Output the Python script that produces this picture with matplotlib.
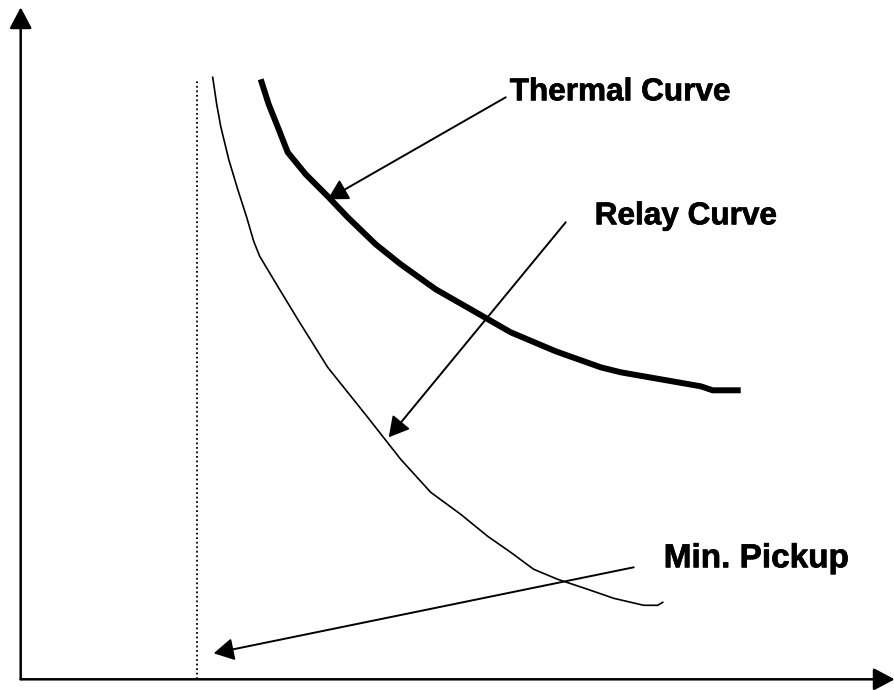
import matplotlib
matplotlib.use("Agg")
import matplotlib.pyplot as plt
from matplotlib.patches import ArrowStyle
import matplotlib.patheffects as pe

# Data (arbitrary current / time units, origin at axes corner)
thermal_x = [240, 248, 258, 267, 285, 307, 327, 355, 380, 415, 450, 490, 535, 580, 600, 640, 680, 692, 720]
thermal_y = [600, 575, 550, 527, 505, 483, 462, 435, 415, 390, 370, 347, 328, 312, 307, 300, 293, 289, 289]

relay_x = [192, 196, 200, 208, 217, 226, 233, 239, 257, 277, 307, 347, 380, 410, 440, 467, 490, 513, 537, 567, 593, 623, 637, 642]
relay_y = [602, 575, 553, 520, 490, 462, 438, 423, 393, 360, 312, 262, 220, 187, 165, 143, 127, 110, 100, 90, 81, 74, 74, 77]

min_pickup_x = 176
min_pickup_top = 600

labels = ["Thermal Curve", "Relay Curve", "Min. Pickup"]
label_size = [22.7, 22.7, 24.0]
label_pos = [(489, 579), (574, 455), (643, 112)]
arrow_start = [(485, 582), (545, 457), (613, 112)]
arrow_tip = [(307, 480), (368, 242), (193, 26)]

fig = plt.figure(figsize=(8.95, 6.9), dpi=100)
ax = fig.add_axes([0, 0, 1, 1])
ax.set_xlim(-20.7, 874.3)
ax.set_ylim(-10.7, 679.3)
ax.axis("off")

px = 100 / 72.0


def head(L, W, ms=10):
    return ArrowStyle("-|>", head_length=L / (ms * px), head_width=W / 2 / (ms * px))


# axes with arrows
ax.annotate("", xy=(0, 672), xytext=(0, 0),
            arrowprops=dict(arrowstyle=head(18, 19), mutation_scale=10, lw=1.8,
                            color="black", shrinkA=0, shrinkB=0))
ax.annotate("", xy=(874, 0), xytext=(0, 0),
            arrowprops=dict(arrowstyle=head(18, 19), mutation_scale=10, lw=1.8,
                            color="black", shrinkA=0, shrinkB=0))

# min pickup dotted line
ax.plot([min_pickup_x, min_pickup_x], [0, min_pickup_top], color="black",
        lw=1.3, linestyle=(0, (1, 1.5)))

# curves
ax.plot(thermal_x, thermal_y, color="black", lw=4.3, solid_capstyle="butt",
        solid_joinstyle="round")
ax.plot(relay_x, relay_y, color="black", lw=1.2, solid_joinstyle="round")

# labels and arrows
for lab, fs, (tx, ty), s, t in zip(labels, label_size, label_pos, arrow_start, arrow_tip):
    ax.text(tx, ty, lab, fontsize=fs, fontweight="bold",
            family=["Liberation Sans", "DejaVu Sans"], ha="left", va="baseline",
            path_effects=[pe.withStroke(linewidth=0.5, foreground="black")])
    ax.annotate("", xy=t, xytext=s,
                arrowprops=dict(arrowstyle=head(17, 19), mutation_scale=10, lw=1.4,
                                color="black", shrinkA=0, shrinkB=0))

fig.savefig("out.png", dpi=100)
